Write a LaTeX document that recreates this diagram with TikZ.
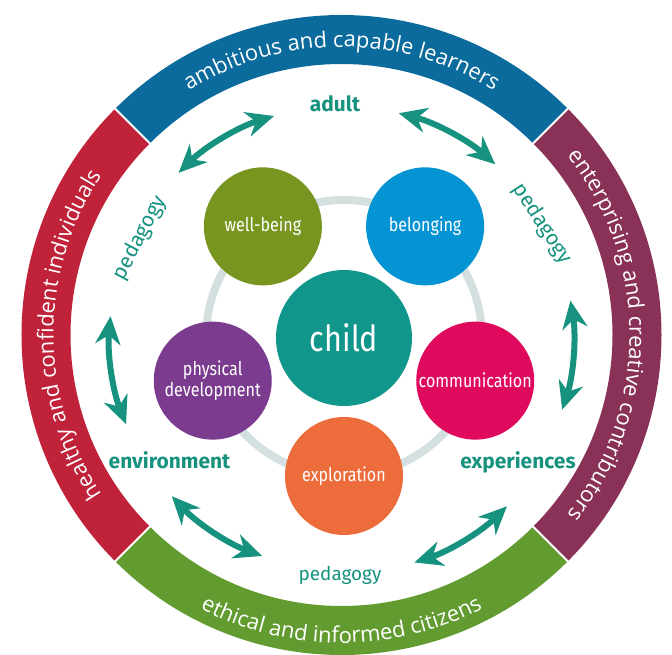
\documentclass[tikz,border=0pt]{standalone}
\usepackage{fontspec}
\setmainfont{Fira Sans}
\newfontfamily\condfam[FakeStretch=0.85]{Fira Sans}
\newfontfamily\bandfam{Open Sans}
\usetikzlibrary{decorations.text,arrows.meta,calc}
\definecolor{bandblue}{HTML}{0A6B9C}
\definecolor{bandred}{HTML}{C0223A}
\definecolor{bandpurple}{HTML}{8A3157}
\definecolor{bandgreen}{HTML}{629C30}
\definecolor{tealc}{HTML}{16927F}
\definecolor{cwell}{HTML}{77951F}
\definecolor{cbelong}{HTML}{0594D3}
\definecolor{cchild}{HTML}{11968B}
\definecolor{cphys}{HTML}{7B3B8E}
\definecolor{ccomm}{HTML}{DF0A5E}
\definecolor{cexpl}{HTML}{EC6C3B}
\definecolor{ringgrey}{HTML}{D3E0DF}
\newcommand\bandfont{\bandfam\fontsize{22}{26}\selectfont\color{white}}
\begin{document}
\begin{tikzpicture}[x=1bp,y=1bp,
  smallcirc/.style={circle, minimum size=118bp, inner sep=0pt, text=white,
    font=\condfam\fontsize{19}{21}\selectfont, align=center},
  lbl/.style={text=tealc, font=\bfseries\fontsize{21}{24}\selectfont, inner sep=0pt},
  peda/.style={text=tealc, font=\fontsize{19}{22}\selectfont, inner sep=0pt},
  pedarot/.style={text=tealc, font=\fontsize{21}{24}\selectfont, inner sep=0pt},
  arr/.style={tealc, line width=6bp,
    {Stealth[length=28bp,width=25bp,inset=9bp]}-{Stealth[length=28bp,width=25bp,inset=9bp]}},
  bandtext/.style={decorate, decoration={text along path, text align=center, text={|\bandfont|#1}}}
]
\useasboundingbox (-341.5,-320) rectangle (330.5,335);
\coordinate (O) at (0,0);
\coordinate (K) at (2.5,-3);
\coordinate (A) at (0,-3);

% outer bands
\fill[bandblue] (45:320) arc[start angle=45,end angle=135,radius=320] -- (135:271) arc[start angle=135,end angle=45,radius=271] -- cycle;
\fill[bandred] (135:320) arc[start angle=135,end angle=225,radius=320] -- (225:271) arc[start angle=225,end angle=135,radius=271] -- cycle;
\fill[bandgreen] (225:320) arc[start angle=225,end angle=315,radius=320] -- (315:271) arc[start angle=315,end angle=225,radius=271] -- cycle;
\fill[bandpurple] (-45:320) arc[start angle=-45,end angle=45,radius=320] -- (45:271) arc[start angle=45,end angle=-45,radius=271] -- cycle;
\foreach \a in {45,135,225,315} \draw[white, line width=2bp] (\a:268) -- (\a:323);

% band texts
\path[bandtext={ambitious and capable learners}] (140:288) arc[start angle=140,end angle=40,radius=288];
\path[bandtext={healthy and confident individuals}] (230:288) arc[start angle=230,end angle=130,radius=288];
\path[bandtext={enterprising and creative contributors}] (50:288) arc[start angle=50,end angle=-50,radius=288];
\path[bandtext={ethical and informed citizens}] (220:308) arc[start angle=220,end angle=320,radius=308];

% inner ring and circles
\draw[ringgrey, line width=8bp] (K) circle[radius=138];
\node[circle, fill=cchild, minimum size=136bp, inner sep=0pt, text=white,
  font=\condfam\fontsize{36}{40}\selectfont] (child) at (K) {child};
\node[smallcirc, fill=cwell] (wb) at ($(K)+(126:138)$) {well-being};
\node[smallcirc, fill=cbelong] (bel) at ($(K)+(54:138)$) {belonging};
\node[smallcirc, fill=cphys] (phys) at ($(K)+(198:138)$) {physical\\development};
\node[smallcirc, fill=ccomm] (comm) at ($(K)+(342:138)$) {communication};
\node[smallcirc, fill=cexpl] (expl) at ($(K)+(270:138)$) {exploration};

% labels
\node[lbl, anchor=base] (adult) at (-6.5,223) {adult};
\node[lbl, anchor=base] (env) at (-172,-133) {environment};
\node[lbl, anchor=base] (exp) at (176.5,-133) {experiences};
\node[peda, anchor=base] (pedb) at (-1.5,-245) {pedagogy};
\node[pedarot, rotate=62] (pedl) at (-201.5,97) {pedagogy};
\node[pedarot, rotate=-57] (pedr) at (200.5,111) {pedagogy};

% arrows
\draw[arr] ($(A)+(134.6:232)$) arc[start angle=134.6,end angle=106.9,radius=232];
\draw[arr] ($(A)+(75.7:232)$) arc[start angle=75.7,end angle=48.5,radius=232];
\draw[arr] ($(A)+(174.6:232)$) arc[start angle=174.6,end angle=201.8,radius=232];
\draw[arr] ($(A)+(9.3:232)$) arc[start angle=9.3,end angle=-18,radius=232];
\draw[arr] ($(A)+(223:232)$) arc[start angle=223,end angle=250,radius=232];
\draw[arr] ($(A)+(288:236)$) arc[start angle=288,end angle=314.5,radius=236];
\end{tikzpicture}
\end{document}
